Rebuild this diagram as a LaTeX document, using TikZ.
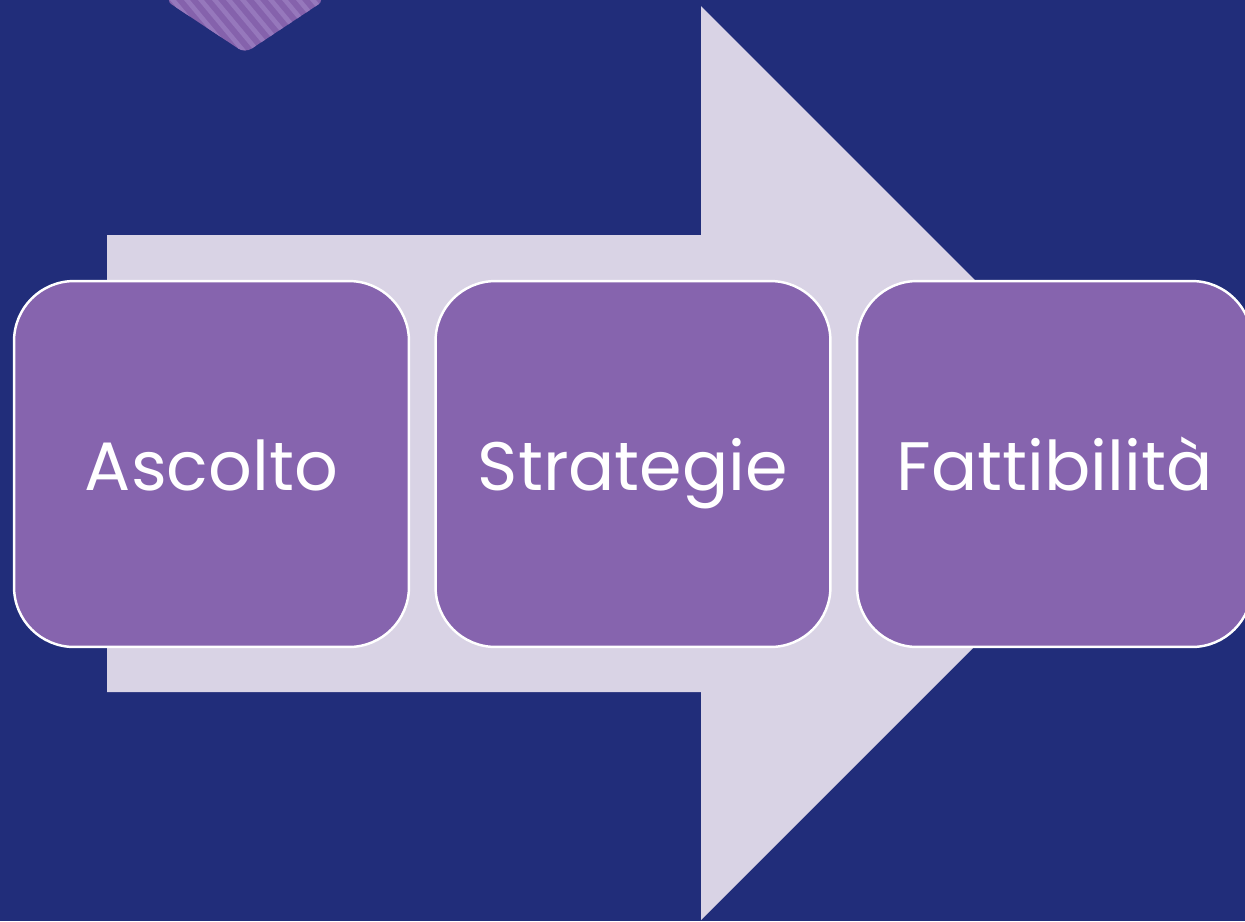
\documentclass[tikz,border=0pt]{standalone}
\usepackage{fontspec}
\setmainfont{Poppins}
\definecolor{bgnavy}{RGB}{33,45,122}
\definecolor{arrowlav}{RGB}{217,211,229}
\definecolor{boxpurple}{RGB}{134,100,174}
\definecolor{stripeA}{RGB}{133,98,172}
\definecolor{stripeB}{RGB}{150,120,188}
\tikzset{
  stepbox/.style={draw=white, line width=1.4pt, fill=boxpurple, rounded corners=1.2cm,
    minimum width=7.9cm, minimum height=7.32cm, inner sep=0pt,
    text height=30pt, text depth=0.4pt,
    text=white, font=\fontsize{39}{47}\selectfont},
}
\begin{document}
\begin{tikzpicture}[x=0.02cm,y=-0.02cm]
\useasboundingbox (0,0) rectangle (1245,921);
\clip (0,0) rectangle (1245,921);
\fill[bgnavy] (0,0) rectangle (1245,921);
% striped diamond at top
\begin{scope}
\clip[rounded corners=0.16cm] (165,0) -- (245,53) -- (325,0) -- (245,-53) -- cycle;
\fill[stripeA] (150,-60) rectangle (340,60);
\foreach \i in {-12,...,14}{
  \fill[stripeB] (120+\i*14,-60) -- ++(6,0) -- ++(100,120) -- ++(-6,0) -- cycle;
}
\end{scope}
% big arrow
\fill[arrowlav] (107,235) -- (701,235) -- (701,6) -- (1158,463) -- (701,920) -- (701,692) -- (107,692) -- cycle;
% boxes
\node[stepbox] (b1) at (211.5,464) {Ascolto};
\node[stepbox] (b2) at (633,464) {Strategie};
\node[stepbox] (b3) at (1054.5,464) {Fattibilità};
\end{tikzpicture}
\end{document}
